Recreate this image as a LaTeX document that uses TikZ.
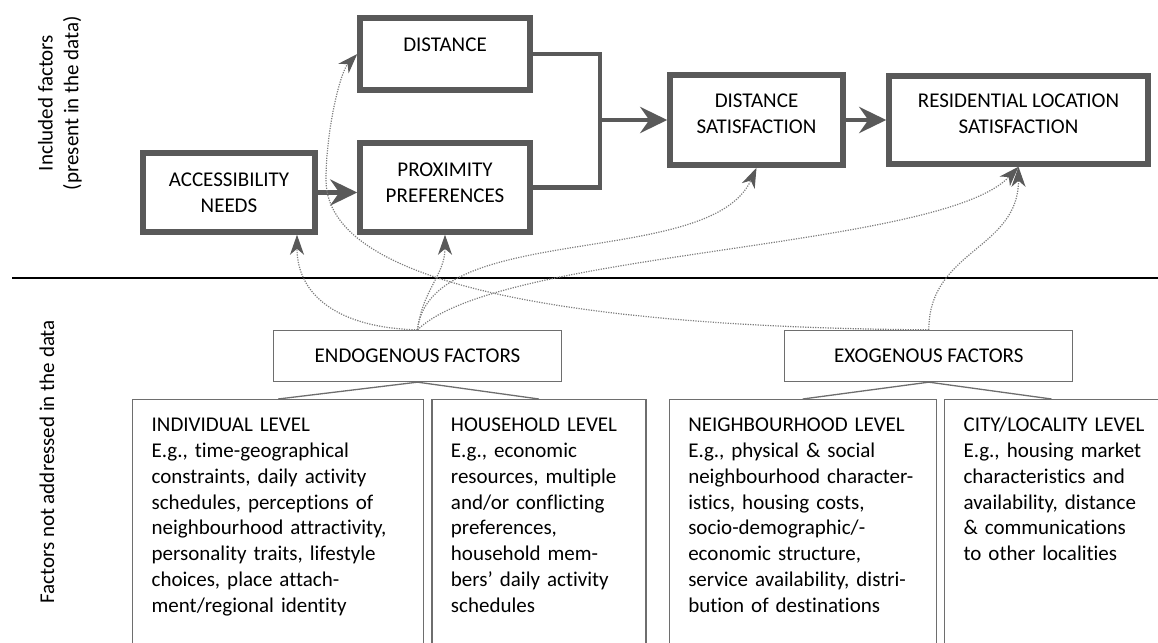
\documentclass[tikz,border=0pt]{standalone}
\usepackage{fontspec}
\setmainfont{Carlito}[Ligatures={TeX,NoCommon}]
\usepackage{tikz}
\usetikzlibrary{arrows.meta, positioning, calc}
\definecolor{BoxGray}{RGB}{89,89,89}
\definecolor{ThinGray}{RGB}{110,110,110}
\definecolor{DotGray}{RGB}{125,125,125}
\newcommand{\diagfont}{\fontsize{21}{25.8}\selectfont}

\begin{document}
\begin{tikzpicture}[
      x=1pt, y=-1pt,
      every node/.style={font=\diagfont},
      bigbox/.style={draw=BoxGray, line width=5.5pt, align=center, inner sep=0pt},
      smallbox/.style={draw=ThinGray, line width=1.3pt, minimum width=288pt,
                       minimum height=51pt, inner sep=0pt},
      levelbox/.style={draw=ThinGray, line width=1.3pt, align=left, anchor=north west,
                       inner xsep=19pt, inner ysep=18pt, text height=14pt, text depth=260pt},
      link/.style={line width=4.5pt, BoxGray},
      arr/.style={-{Stealth[length=27pt, width=26pt, inset=9pt]}, line width=4.5pt, BoxGray},
      dotarr/.style={-{Stealth[length=20pt, width=14pt, inset=6pt, fill=BoxGray, color=BoxGray]},
                     DotGray, line width=1.2pt, dash pattern=on 1.2pt off 1.3pt},
      fan/.style={ThinGray, line width=1.3pt}
    ]
      \useasboundingbox (0,0) rectangle (1158,642);
      \clip (0,0) rectangle (1158,642);

      \node[rotate=90, align=center] (labin) at (60,103) {Included factors\\(present in the data)};
      \node[rotate=90] (labout) at (47,462) {Factors not addressed in the data};
      \draw[line width=2pt] (12,278) -- (1158,278);

      \node[bigbox, minimum width=170pt, minimum height=72pt, text depth=18pt] (dist) at (445,54) {DISTANCE};
      \node[bigbox, minimum width=170pt, minimum height=89pt, text depth=10pt, below=47.5pt of dist] (prox) {PROXIMITY\\PREFERENCES};
      \node[bigbox, minimum width=172pt, minimum height=79pt, left=39.5pt of prox, yshift=-5pt] (acc) {ACCESSIBILITY\\NEEDS};
      \node[bigbox, minimum width=173pt, minimum height=90pt, text depth=13pt] (dsat) at (756.5,120) {DISTANCE\\SATISFACTION};
      \node[bigbox, minimum width=259pt, minimum height=88pt, text depth=12pt, right=40.5pt of dsat] (res) {RESIDENTIAL LOCATION\\SATISFACTION};

      \coordinate (jn) at (600,120);
      \draw[link] (dist.east) -| (jn) |- (prox.east);
      \draw[arr] (jn) -- (dsat.west);
      \draw[arr] (acc.east) -- (acc.east -| prox.west);
      \draw[arr] (dsat) -- (res);

      \node[smallbox] (endo) at (417.5,356) {ENDOGENOUS FACTORS};
      \node[smallbox, right=222pt of endo] (exo) {EXOGENOUS FACTORS};

      \node[levelbox, text width=253pt] (indiv) at (132,399) {INDIVIDUAL LEVEL\\E.g., time-geographical\\constraints, daily activity\\schedules, perceptions of\\neighbourhood attractivity,\\personality traits, lifestyle\\choices, place attach-\\ment/regional identity};
      \node[levelbox, text width=176pt, right=7pt of indiv] (house) {HOUSEHOLD LEVEL\\E.g., economic\\resources, multiple\\and/or conflicting\\preferences,\\household mem-\\bers' daily activity\\schedules};
      \node[levelbox, text width=229pt, right=22pt of house] (neigh) {NEIGHBOURHOOD LEVEL\\E.g., physical \& social\\neighbourhood character-\\istics, housing costs,\\socio-demographic/-\\economic structure,\\service availability, distri-\\bution of destinations};
      \node[levelbox, text width=188pt, right=7pt of neigh] (city) {CITY/LOCALITY LEVEL\\E.g., housing market\\characteristics and\\availability, distance\\\& communications\\to other localities};

      \draw[fan] (indiv.north) -- (endo.south) -- (house.north);
      \draw[fan] (neigh.north) -- (exo.south) -- ([xshift=-6pt]city.north);

      \draw[dotarr] (endo.north) .. controls +(-80,-2) and +(0,60) .. ([xshift=68pt]acc.south);
      \draw[dotarr] (endo.north) .. controls +(5,-40) and +(0,40) .. (prox.south);
      \draw[dotarr] (endo.north) .. controls +(12,-110) and +(-46,102) .. (dsat.south);
      \draw[dotarr] (endo.north) .. controls +(82,-80) and +(-78,83) .. (res.south);
      \coordinate (bend) at (326,180);
      \draw[dotarr] (exo.north) .. controls +(-280,-2) and +(0,120) .. (bend) .. controls +(0,-50) and +(-17,18) .. (dist.west);
      \draw[dotarr] (exo.north) .. controls +(0,-80) and +(0,83) .. (res.south);
    \end{tikzpicture}
\end{document}
